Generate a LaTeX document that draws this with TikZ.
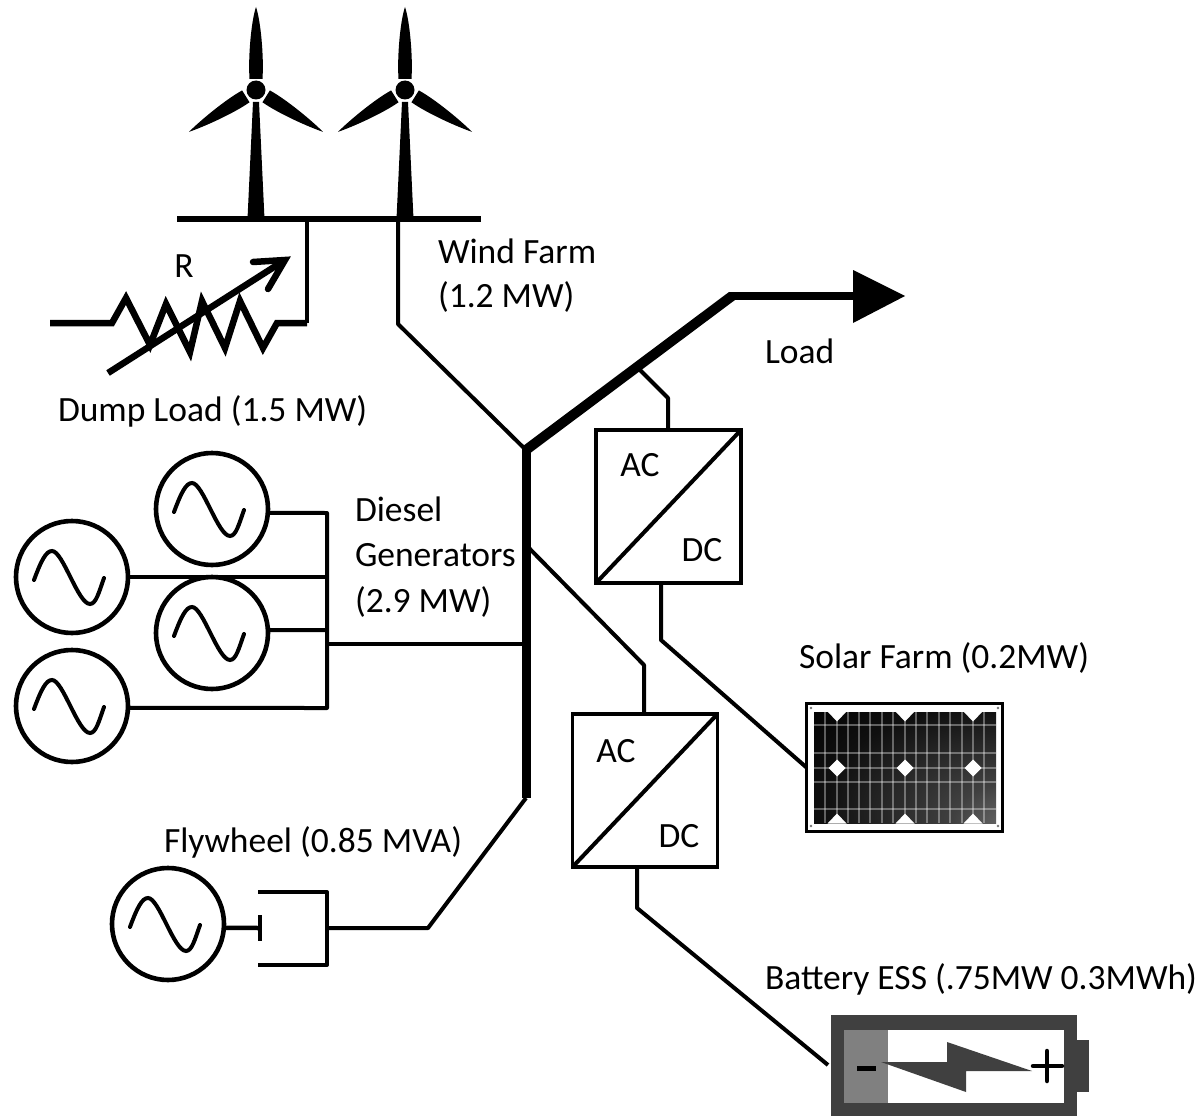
\documentclass[tikz,border=0pt]{standalone}
\usepackage{fontspec}
\setmainfont{Carlito}
\pgfdeclareradialshading{panelshade}{\pgfpoint{41bp}{-32bp}}{color(0bp)=(black!45!white);color(20bp)=(black!75!white);color(45bp)=(black!94!white);color(62bp)=(black);color(100bp)=(black)}
\definecolor{batdark}{gray}{0.25}
\definecolor{batmid}{gray}{0.5}
\tikzset{
  lbl/.style={inner sep=0pt,outer sep=0pt,anchor=west,font=\fontsize{35.5}{45}\selectfont},
  ctr/.style={lbl,anchor=center},
  wire/.style={draw=black,line width=4pt,line join=round},
  gen/.style={circle,draw=black,line width=4.6pt,inner sep=0pt,outer sep=0pt,minimum size=112pt},
  conv/.style={rectangle,draw=black,line width=3.6pt,inner sep=0pt,outer sep=0pt,minimum width=145pt,minimum height=153pt},
  sinepic/.pic={\draw[line width=4pt,line cap=round] (-38,3) .. controls (-31,-16) and (-26,-26) .. (-20,-26) .. controls (-9,-26) and (6,27) .. (18,27) .. controls (24,27) and (27,15) .. (32,1);},
  blade/.pic={\fill[black] (-6.5,-11) .. controls (-8,-35) and (-4.5,-70) .. (0,-83) .. controls (4.5,-70) and (8,-35) .. (6.5,-11) -- cycle;},
  sideblade/.pic={\fill[black] (-7,-12) .. controls (-8,-32) and (-3.5,-64) .. (0,-79) .. controls (3.5,-64) and (8,-32) .. (7,-12) -- cycle;},
  turbine/.pic={
    \fill[black] (-3,12) -- (3,12) -- (8.5,129) -- (-8.5,129) -- cycle;
    \fill[black] (0,0) circle (9.5);
    \pic {blade};
    \pic[rotate=122] {sideblade};
    \pic[rotate=-122] {sideblade};
  }
}
\begin{document}
\begin{tikzpicture}[x=1pt,y=-1pt]
\useasboundingbox (0,0) rectangle (1195,1116);
% junctions
\coordinate (bustop) at (526,450);
\coordinate (busbot) at (526,798);
\coordinate (loadknee) at (732,296);
\coordinate (loadend) at (860,296);
\coordinate (wfA) at (177,219);
\coordinate (wfB) at (481,219);
\coordinate (wfdrop) at (398,219);
\coordinate (wfknee) at (398,324);
\coordinate (dldrop) at (307,219);
\coordinate (dlknee) at (307,323);
\coordinate (rs) at (50,323);
\coordinate (rl) at (112,323);
\coordinate (rr) at (277,323);
\coordinate (arrA) at (108,373);
\coordinate (arrB) at (285,260);
\coordinate (arrC) at (253,262);
\coordinate (arrD) at (268,289);
% wind turbines
\pic at (256,90) {turbine};
\pic at (405,90) {turbine};
\draw[black,line width=5.5pt] (wfA) -- (wfB);
\draw[wire] (wfdrop) -- (wfknee) -- (bustop);
% dump load
\draw[black,line width=6.5pt,line join=miter] (rs) -- (rl) -- (126,298) -- (150,345) -- (166,304) -- (190,352) -- (202,301) -- (225,348) -- (240,301) -- (263,348) -- (rr) -- (dlknee);
\draw[black,line width=4pt] (dlknee) -- (dldrop);
\draw[black,line width=6.5pt] (arrA) -- (arrB);
\draw[black,line width=6.5pt,line cap=round,line join=miter] (arrC) -- (arrB) -- (arrD);
% bus and load
\draw[black,line width=9pt] (busbot) -- (526,446);
\draw[black,line width=10pt] (bustop) -- (loadknee);
\draw[black,line width=8pt] (729,296) -- (loadend);
\fill[black] (853,270) -- (905,296) -- (853,323) -- cycle;
% generators
\node[gen] (g1) at (212,509) {};
\node[gen] (g2) at (72,577) {};
\node[gen] (g3) at (212,633) {};
\node[gen] (g4) at (72,706) {};
\node[gen] (fly) at (168,924) {};
\pic at (g1) {sinepic};
\pic at (g2) {sinepic};
\pic at (g3) {sinepic};
\pic at (g4) {sinepic};
\pic at (fly) {sinepic};
\coordinate (j1) at (327,513);
\coordinate (j2) at (327,577);
\coordinate (j3) at (327,630);
\coordinate (j4) at (327,708);
\coordinate (j5) at (327,644);
\coordinate (busg) at (526,644);
\draw[wire] (g1.-4) -- (j1) -- (j4) -- (g4.-2);
\draw[wire] (g2.east) -- (j2);
\draw[wire] (g3.3) -- (j3);
\draw[wire] (j5) -- (busg);
% flywheel
\coordinate (ftick) at (260,928);
\coordinate (fa) at (258,892);
\coordinate (fb) at (327,892);
\coordinate (fc) at (327,965);
\coordinate (fd) at (258,965);
\coordinate (fe) at (327,928);
\coordinate (fknee) at (428,928);
\draw[black,line width=4.5pt] (fly.-4) -- (ftick);
\draw[black,line width=4pt] (260,915) -- (260,941);
\draw[wire] (fa) -- (fb) -- (fc) -- (fd);
\draw[wire] (fe) -- (fknee) -- (busbot);
% converters
\node[conv] (c1) at (668.5,506.5) {};
\node[conv] (c2) at (645,790.5) {};
\draw[wire] (c1.south west) -- (c1.north east);
\draw[wire] (c2.south west) -- (c2.north east);
\coordinate (c1up) at (640,370);
\coordinate (c1k) at (668,398);
\coordinate (c1t) at (668,430);
\coordinate (c1b) at (661,583);
\coordinate (c1k2) at (661,640);
\coordinate (c2s) at (526,545);
\coordinate (c2k) at (644,665);
\coordinate (c2t) at (644,714);
\coordinate (c2b) at (637,867);
\coordinate (c2k2) at (637,908);
\draw[wire] (c1up) -- (c1k) -- (c1t);
\draw[wire] (c2s) -- (c2k) -- (c2t);
% solar panel
\node[rectangle,draw=black,fill=white,line width=3pt,inner sep=0pt,outer sep=0pt,minimum width=196pt,minimum height=128pt] (panel) at (904.5,767.5) {};
\draw[wire] (c1b) -- (c1k2) -- (panel.west);
\shade[shading=panelshade] (814,712) rectangle (996,823);
\foreach \x in {825,837,848,859,870,882,893,905,916,927,939,950,962,973,984}
  \draw[white,opacity=.35,line width=1.1pt] (\x,712) -- (\x,823);
\foreach \y in {725,753,768,782,809}
  \draw[white,opacity=.35,line width=1.1pt] (814,\y) -- (996,\y);
\foreach \x in {837,905,973}{
  \fill[white] (\x-8.5,768) -- (\x,759.5) -- (\x+8.5,768) -- (\x,776.5) -- cycle;
  \fill[white] (\x-9.5,711.5) -- (\x,721.5) -- (\x+9.5,711.5) -- cycle;
  \fill[white] (\x-9.5,823.5) -- (\x,813.5) -- (\x+9.5,823.5) -- cycle;
}
\foreach \x/\y in {811/708,998/708,811/826,998/826}
  \fill[black!55] (\x,\y) circle (1.3);
% battery
\fill[batdark] (831,1015) rectangle (1077,1116);
\fill[batdark] (1077,1040) rectangle (1089,1092);
\fill[white] (844,1030) rectangle (1064,1103);
\fill[batmid] (844,1030) rectangle (888,1103);
\fill[batdark] (881,1062) -- (947,1062) -- (947,1042) -- (1032,1071) -- (966,1071) -- (966,1092) -- cycle;
\draw[black,line width=5pt] (857,1068) -- (876,1068);
\draw[black,line width=4.5pt,line cap=round] (1033,1066) -- (1062,1066);
\draw[black,line width=4.5pt,line cap=round] (1047,1051) -- (1047,1081);
\node[inner sep=0pt,outer sep=0pt,minimum size=0pt] (bat) at (828,1065) {};
\draw[wire] (c2b) -- (c2k2) -- (bat);
% labels
\node[lbl] (lwf) at (438,251) {Wind Farm};
\node[lbl] (lwp) at (438,297) {(1.2 MW)};
\node[ctr] (lr) at (184,266) {R};
\node[lbl] (ldl) at (58,411) {Dump Load (1.5 MW)};
\node[lbl] (ll) at (765,351) {Load};
\node[lbl] (ld1) at (355,509) {Diesel};
\node[lbl] (ld2) at (355,555) {Generators};
\node[lbl] (ld3) at (355,602) {(2.9 MW)};
\node[lbl] (lsf) at (799,658) {Solar Farm (0.2MW)};
\node[lbl] (lfw) at (164,842) {Flywheel (0.85 MVA)};
\node[lbl] (lbe) at (765,979) {Battery ESS (.75MW 0.3MWh)};
\node[ctr] (a1) at (640,465) {AC};
\node[ctr] (d1) at (702,550) {DC};
\node[ctr] (a2) at (616,751) {AC};
\node[ctr] (d2) at (679,836) {DC};
\end{tikzpicture}
\end{document}
